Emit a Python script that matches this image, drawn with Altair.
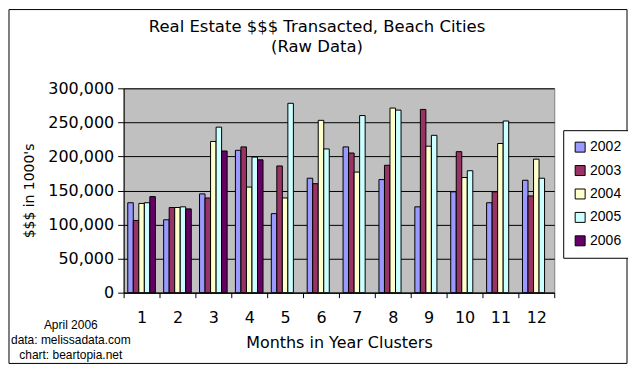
import altair as alt
import pandas as pd

months = [str(i) for i in range(1, 13)]
years = ["2002", "2003", "2004", "2005", "2006"]
colors = ["#9999FF", "#993366", "#FFFFCC", "#CCFFFF", "#660066"]

v2002 = [132000, 107000, 145000, 209000, 116000, 168000, 214000, 166000, 126000, 148000, 132000, 165000]
v2003 = [106000, 125000, 139000, 214000, 186000, 160000, 205000, 187000, 269000, 207000, 148000, 142000]
v2004 = [131000, 125000, 222000, 155000, 139000, 253000, 177000, 271000, 215000, 169000, 219000, 196000]
v2005 = [132000, 126000, 243000, 199000, 278000, 211000, 260000, 268000, 231000, 179000, 252000, 168000]
v2006 = [141000, 123000, 208000, 195000]

y_ticks = [0, 50000, 100000, 150000, 200000, 250000, 300000]
title_lines = ["Real Estate $$$ Transacted, Beach Cities", "(Raw Data)"]
notes = ["April 2006", "data: melissadata.com", "chart: beartopia.net"]

rows = []
for yr, vals in zip(years, [v2002, v2003, v2004, v2005, v2006]):
    for m, v in zip(months, vals):
        rows.append({"month": m, "year": yr, "value": v})
df = pd.DataFrame(rows)

FONT = "DejaVu Sans"

bars = alt.Chart(df).mark_bar(stroke="black", strokeWidth=1).encode(
    x=alt.X("month:O", sort=months,
            scale=alt.Scale(paddingInner=0, paddingOuter=0),
            axis=alt.Axis(title="Months in Year Clusters", labelAngle=0, tickBand="extent",
                          domainColor="black", tickColor="black", tickSize=5,
                          labelFont=FONT, labelFontSize=16, labelColor="black", labelPadding=12,
                          titleFont=FONT, titleFontSize=16, titleFontWeight="normal",
                          titleColor="black", titlePadding=9, grid=False)),
    xOffset=alt.XOffset("year:N", scale=alt.Scale(domain=years, paddingOuter=0.75, paddingInner=0)),
    y=alt.Y("value:Q", scale=alt.Scale(domain=[0, 300000]),
            axis=alt.Axis(values=y_ticks, format=",d", title="$$$ in 1000's",
                          domainColor="black", tickColor="black", tickSize=6,
                          gridColor="black", gridOpacity=1, gridWidth=1,
                          labelFont=FONT, labelFontSize=16, labelColor="black", labelPadding=4,
                          titleFont=FONT, titleFontSize=14, titleFontWeight="normal",
                          titleColor="black", titlePadding=11)),
    color=alt.Color("year:N", scale=alt.Scale(domain=years, range=colors),
                    legend=alt.Legend(title=None, orient="none", legendX=441, legendY=42,
                                      symbolType="square", symbolSize=100,
                                      symbolStrokeColor="black", symbolStrokeWidth=1,
                                      symbolOpacity=1,
                                      labelFont="Liberation Sans", labelFontSize=14,
                                      labelColor="black", labelOffset=3,
                                      rowPadding=9.5, padding=10, strokeColor="black",
                                      fillColor="white")),
)

note_layer = alt.Chart(alt.Data(values=[{}])).mark_text(
    font="Liberation Sans", fontSize=12, color="black", lineHeight=15.5,
    align="center", baseline="middle",
).encode(x=alt.value(-53), y=alt.value(237), text=alt.value(notes))

border = alt.Chart(alt.Data(values=[{}])).mark_rect(
    fill=None, stroke="black", strokeWidth=1
).encode(x=alt.value(-115), x2=alt.value(505), y=alt.value(-79), y2=alt.value(276))

chart = alt.layer(bars, note_layer, border).properties(
    width=432, height=205,
    title=alt.TitleParams(title_lines, anchor="middle", dx=-22, dy=47, offset=0,
                          font=FONT, fontSize=16.5, fontWeight="normal",
                          color="black", lineHeight=20),
    autosize=alt.AutoSizeParams(type="none"),
    padding={"left": 116, "top": 80, "right": 74, "bottom": 72},
    background="white",
).configure_view(fill="#C0C0C0", stroke="#808080", strokeWidth=1)

chart.save("out.html", embed_options={"renderer": "svg", "actions": False})
